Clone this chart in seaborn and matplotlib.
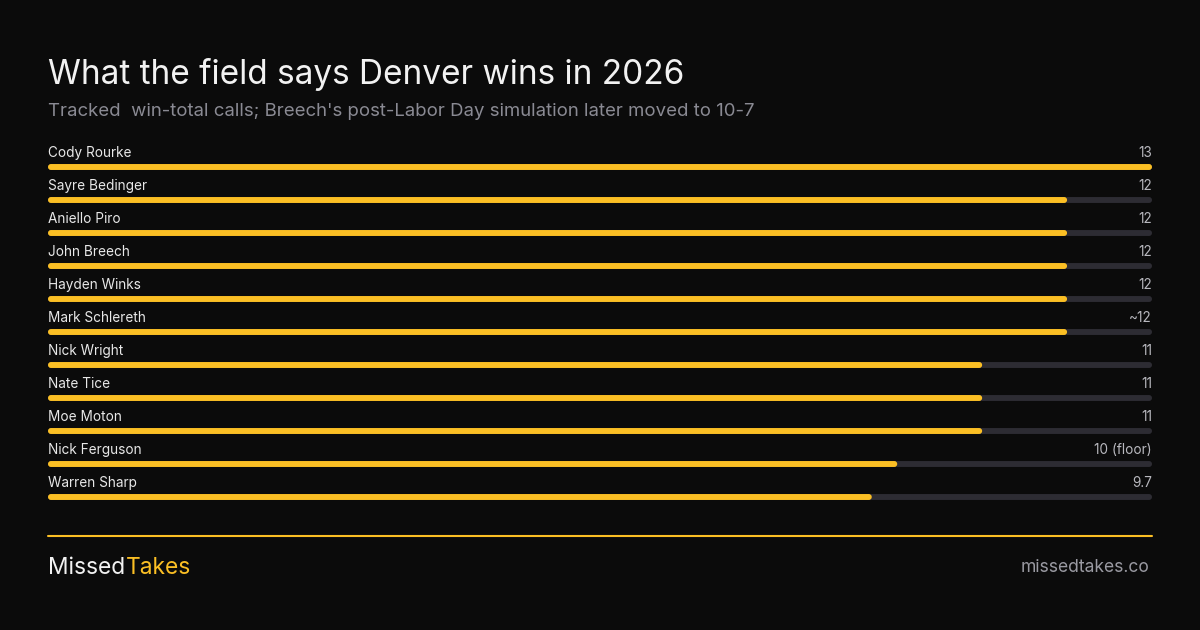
import matplotlib
import matplotlib.pyplot as plt
import pandas as pd
import seaborn as sns
from matplotlib.patches import FancyBboxPatch

matplotlib.use("Agg")

BG = "#0b0b0b"
YELLOW = "#fbbf24"
TRACK = "#2d2c33"

names = [
    "Cody Rourke", "Sayre Bedinger", "Aniello Piro", "John Breech", "Hayden Winks",
    "Mark Schlereth", "Nick Wright", "Nate Tice", "Moe Moton", "Nick Ferguson", "Warren Sharp",
]
wins = [13, 12, 12, 12, 12, 12, 11, 11, 11, 10, 9.7]
value_labels = ["13", "12", "12", "12", "12", "~12", "11", "11", "11", "10 (floor)", "9.7"]
scale_max = 13

df = pd.DataFrame({"name": names, "wins": wins, "track": [scale_max] * len(names)})

sns.set_theme(style="white")
plt.rcParams["font.family"] = ["Inter", "DejaVu Sans"]

fig = plt.figure(figsize=(12, 6.3), dpi=100, facecolor=BG)
W, H = 1200, 630


def px(x, y):
    return x / W, 1 - y / H


ax = fig.add_axes([48 / W, (630 - 513.5) / H, 1104 / W, 363 / H])
ax.set_facecolor(BG)

bar_h = 0.18
sns.barplot(data=df, y="name", x="track", color=TRACK, width=bar_h, orient="h",
            saturation=1, ax=ax)
sns.barplot(data=df, y="name", x="wins", color=YELLOW, width=bar_h, orient="h",
            saturation=1, ax=ax)

# swap square bars for rounded ones
x_per_px = scale_max / 1104
y_per_px = 1 / 33
rad = 3 * x_per_px
for p in list(ax.patches):
    x0, y0, w, h = p.get_x(), p.get_y(), p.get_width(), p.get_height()
    fc = p.get_facecolor()
    p.set_visible(False)
    ax.add_patch(FancyBboxPatch(
        (x0, y0), w, h,
        boxstyle=f"round,pad=0,rounding_size={rad}",
        mutation_aspect=y_per_px / x_per_px,
        facecolor=fc, edgecolor="none",
    ))

ax.set_xlim(0, scale_max)
ax.set_ylim(len(names) - 0.5, -0.5)
ax.axis("off")

for i, (n, v) in enumerate(zip(names, value_labels)):
    ax.text(0, i - 0.42, n, color="#e8e8e8", fontsize=9.8, ha="left", va="center")
    ax.text(scale_max, i - 0.42, v, color="#b8b8be", fontsize=9.8, ha="right", va="center")

fig.text(*px(48, 74.5), "What the field says Denver wins in 2026", color="#f2f2f2",
         fontsize=24.0, ha="left", va="center")
fig.text(*px(48, 112), "Tracked  win-total calls; Breech's post-Labor Day simulation later moved to 10-7",
         color="#8a8a93", fontsize=13.4, ha="left", va="center")

fig.add_artist(plt.Line2D([48 / W, 1152 / W], [1 - 536 / H, 1 - 536 / H],
                          color=YELLOW, lw=1.5, transform=fig.transFigure))

t1 = fig.text(*px(48, 568), "Missed", color="#f2f2f2", fontsize=16.4, ha="left", va="center")
fig.canvas.draw()
bb = t1.get_window_extent()
fig.text(bb.x1 / W + 1 / W, 1 - 568 / H, "Takes", color=YELLOW, fontsize=16.4, ha="left", va="center")
fig.text(*px(1149, 567), "missedtakes.co", color="#9a9aa2", fontsize=12.6, ha="right", va="center")

fig.savefig("out.png", dpi=100, facecolor=BG)
